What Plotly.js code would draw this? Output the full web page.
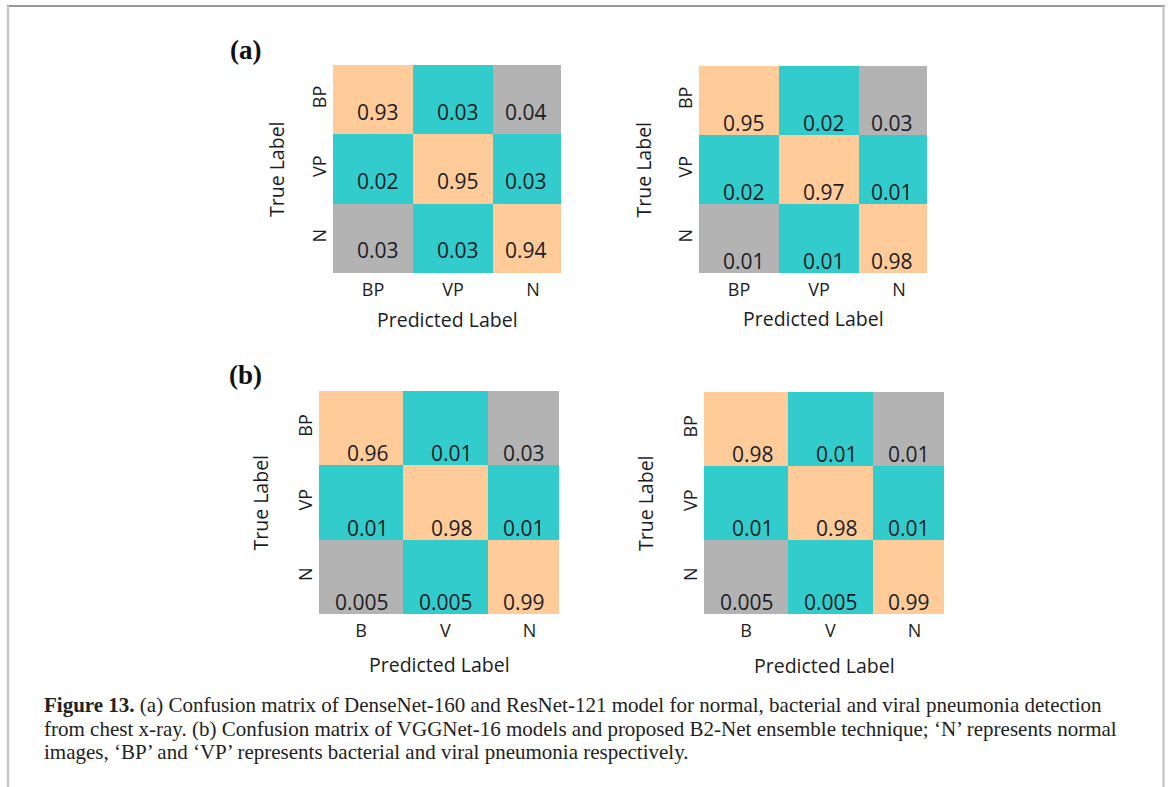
<!DOCTYPE html>
<html>
<head>
<meta charset="utf-8">
<script src="https://cdn.plot.ly/plotly-3.0.1.min.js"></script>
<style>
  html, body { margin: 0; padding: 0; background: #ffffff; }
  #chart { width: 1170px; height: 787px; }
</style>
</head>
<body>
<div id="chart"></div>
<script>
// ---------------- data ----------------
var trueLabels = ['BP', 'VP', 'N'];
var predLabelsA = ['BP', 'VP', 'N'];
var predLabelsB = ['B', 'V', 'N'];

var denseNet160 = [[0.93, 0.03, 0.04], [0.02, 0.95, 0.03], [0.03, 0.03, 0.94]];
var resNet121   = [[0.95, 0.02, 0.03], [0.02, 0.97, 0.01], [0.01, 0.01, 0.98]];
var vggNet16    = [[0.96, 0.01, 0.03], [0.01, 0.98, 0.01], [0.005, 0.005, 0.99]];
var b2Net       = [[0.98, 0.01, 0.01], [0.01, 0.98, 0.01], [0.005, 0.005, 0.99]];

// colour class of each cell: 0 = correct (peach), 1 = teal, 2 = grey
var cellClass = [[0, 1, 2], [1, 0, 1], [2, 1, 0]];

var captionLines = [
  '<b>Figure 13.</b> (a) Confusion matrix of DenseNet-160 and ResNet-121 model for normal, bacterial and viral pneumonia detection',
  'from chest x-ray. (b) Confusion matrix of VGGNet-16 models and proposed B2-Net ensemble technique; \u2018N\u2019 represents normal',
  'images, \u2018BP\u2019 and \u2018VP\u2019 represents bacterial and viral pneumonia respectively.'
];

// ---------------- layout helpers ----------------
var W = 1170, H = 787;
var PEACH = '#FFCC99', TEAL = '#33CCCC', GREY = '#B3B3B3';
var colorscale = [[0, PEACH], [0.3333, PEACH], [0.3334, TEAL], [0.6666, TEAL], [0.6667, GREY], [1, GREY]];
var XMAX = 2.35;
var TXT = '#1c1c24';

var panels = [
  {vals: denseNet160, xl: predLabelsA, px: [333, 561], py: [65, 273], textMode: 'mid', xt: 46, yt: 57},
  {vals: resNet121,   xl: predLabelsA, px: [699, 927], py: [66, 273], textMode: 'bottom', xt: 45, yt: 56},
  {vals: vggNet16,    xl: predLabelsB, px: [319, 559], py: [391, 614], textMode: 'bottom', xt: 50, yt: 59},
  {vals: b2Net,       xl: predLabelsB, px: [704, 944], py: [392, 614], textMode: 'bottom', xt: 51, yt: 59}
];

var data = [];
var layout = {
  width: W, height: H,
  margin: {l: 0, r: 0, t: 0, b: 0},
  paper_bgcolor: '#ffffff',
  plot_bgcolor: '#ffffff',
  showlegend: false,
  font: {family: 'Open Sans, sans-serif', color: TXT},
  annotations: [],
  shapes: []
};

panels.forEach(function (p, k) {
  var n = k + 1;
  var xa = 'x' + (n === 1 ? '' : n), ya = 'y' + (n === 1 ? '' : n);
  var xk = 'xaxis' + (n === 1 ? '' : n), yk = 'yaxis' + (n === 1 ? '' : n);
  var idx = [0, 1, 2];
  var hover = p.vals.map(function (row) { return row.map(function (v) { return String(v); }); });
  data.push({
    type: 'heatmap',
    x: idx, y: idx, z: cellClass,
    zmin: 0, zmax: 2,
    colorscale: colorscale,
    showscale: false,
    text: hover,
    hovertemplate: '%{text}<extra></extra>',
    xaxis: xa, yaxis: ya
  });
  layout[xk] = {
    domain: [p.px[0] / W, p.px[1] / W],
    range: [-0.5, XMAX],
    tickvals: idx, ticktext: p.xl,
    ticks: '', showgrid: false, zeroline: false, showline: false,
    tickfont: {size: 18, color: TXT, family: 'Open Sans, sans-serif'},
    ticklabelstandoff: 4,
    anchor: ya, fixedrange: true
  };
  layout[yk] = {
    domain: [1 - p.py[1] / H, 1 - p.py[0] / H],
    range: [2.5, -0.5],
    tickvals: idx, ticktext: trueLabels,
    tickangle: -90,
    ticks: '', showgrid: false, zeroline: false, showline: false,
    tickfont: {size: 18, color: TXT, family: 'Open Sans, sans-serif'},
    ticklabelstandoff: 2,
    anchor: xa, fixedrange: true
  };
  // values in cells
  p.vals.forEach(function (row, i) {
    row.forEach(function (v, j) {
      layout.annotations.push({
        xref: xa, yref: ya,
        x: Math.min(j + 0.5, XMAX),
        y: p.textMode === 'mid' ? i : i + 0.5,
        yshift: p.textMode === 'mid' ? -12 : 12,
        xshift: -12,
        xanchor: 'right', yanchor: 'middle',
        text: String(v),
        showarrow: false,
        font: {size: 21, color: TXT, family: 'Open Sans, sans-serif'}
      });
    });
  });
  // axis titles
  layout.annotations.push({
    xref: xa + ' domain', yref: ya + ' domain',
    x: 0.5, y: 0, yshift: -p.xt, xanchor: 'center', yanchor: 'middle',
    text: 'Predicted Label', showarrow: false,
    font: {size: 19.5, color: TXT, family: 'Open Sans, sans-serif'}
  });
  layout.annotations.push({
    xref: xa + ' domain', yref: ya + ' domain',
    x: 0, y: 0.5, xshift: -p.yt, xanchor: 'center', yanchor: 'middle',
    textangle: -90,
    text: 'True Label', showarrow: false,
    font: {size: 19.5, color: TXT, family: 'Open Sans, sans-serif'}
  });
});

// panel letters
[['(a)', 245, 50], ['(b)', 245, 375]].forEach(function (t) {
  layout.annotations.push({
    xref: 'paper', yref: 'paper', x: t[1] / W, y: 1 - t[2] / H,
    xanchor: 'center', yanchor: 'middle', showarrow: false,
    text: '<b>' + t[0] + '</b>',
    font: {size: 27, color: '#111111', family: 'Liberation Serif, Times New Roman, serif'}
  });
});

// caption
var capY = [705, 729, 752];
captionLines.forEach(function (line, i) {
  layout.annotations.push({
    xref: 'paper', yref: 'paper', x: 42 / W, y: 1 - capY[i] / H,
    xanchor: 'left', yanchor: 'middle', align: 'left', showarrow: false,
    text: line,
    font: {size: 21, color: '#222222', family: 'Liberation Serif, Times New Roman, serif'}
  });
});

// frame
layout.shapes.push({type: 'line', xref: 'paper', yref: 'paper', x0: 7 / W, x1: 1165 / W, y0: 1 - 6 / H, y1: 1 - 6 / H, line: {color: '#999999', width: 2}});
layout.shapes.push({type: 'line', xref: 'paper', yref: 'paper', x0: 8 / W, x1: 8 / W, y0: 1 - 6 / H, y1: 0, line: {color: '#C8C8C8', width: 2.5}});
layout.shapes.push({type: 'line', xref: 'paper', yref: 'paper', x0: 1163.5 / W, x1: 1163.5 / W, y0: 1 - 6 / H, y1: 0, line: {color: '#C8C8C8', width: 2.5}});

Plotly.newPlot('chart', data, layout, {displayModeBar: false, staticPlot: true});
</script>
</body>
</html>
